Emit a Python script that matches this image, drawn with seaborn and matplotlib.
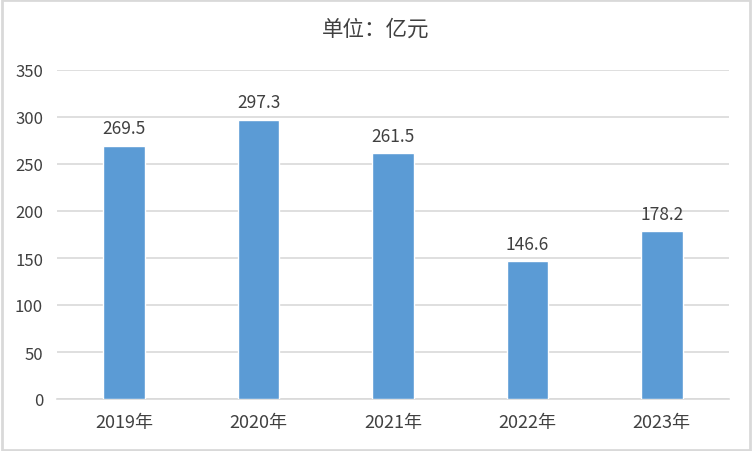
import matplotlib
matplotlib.use("Agg")
import matplotlib.pyplot as plt
import seaborn as sns
import pandas as pd

# data
years = ["2019年", "2020年", "2021年", "2022年", "2023年"]
values = [269.5, 297.3, 261.5, 146.6, 178.2]
title = "单位：亿元"

sns.set_theme(style="white")
plt.rcParams['font.family'] = ['Noto Sans CJK SC', 'DejaVu Sans']

df = pd.DataFrame({"year": years, "value": values})

fig = plt.figure(figsize=(7.52, 4.52), dpi=100)
ax = fig.add_axes([57 / 752, 1 - 400 / 452, 672 / 752, 329 / 452])

sns.barplot(data=df, x="year", y="value", color="#5B9BD5", width=0.31,
            saturation=1, ax=ax, zorder=3)

for i, v in enumerate(values):
    ax.text(i, v + 9, f"{v:.1f}", ha="center", va="bottom", fontsize=12.5, color="#404040")

ax.set_ylim(0, 350)
ax.set_xlim(-0.5, 4.5)
ax.set_yticks(range(0, 351, 50))
ax.yaxis.grid(True, color="#D9D9D9", linewidth=1.2, zorder=0)
ax.set_xlabel("")
ax.set_ylabel("")
for s in ["top", "right", "left"]:
    ax.spines[s].set_visible(False)
ax.spines["bottom"].set_color("#D9D9D9")
ax.spines["bottom"].set_linewidth(1.2)
ax.tick_params(axis="both", length=0, colors="#404040")
ax.tick_params(axis="x", pad=10, labelsize=13)
ax.tick_params(axis="y", pad=10, labelsize=12)

fig.text(0.5, 1 - 30 / 452, title, ha="center", va="center", fontsize=15.5, color="#404040")

# outer border
fig.patches.append(plt.Rectangle((0.002, 0.003), 0.996, 0.994, transform=fig.transFigure,
                                 fill=False, edgecolor="#D9D9D9", linewidth=2))

fig.savefig("out.png", dpi=100)
